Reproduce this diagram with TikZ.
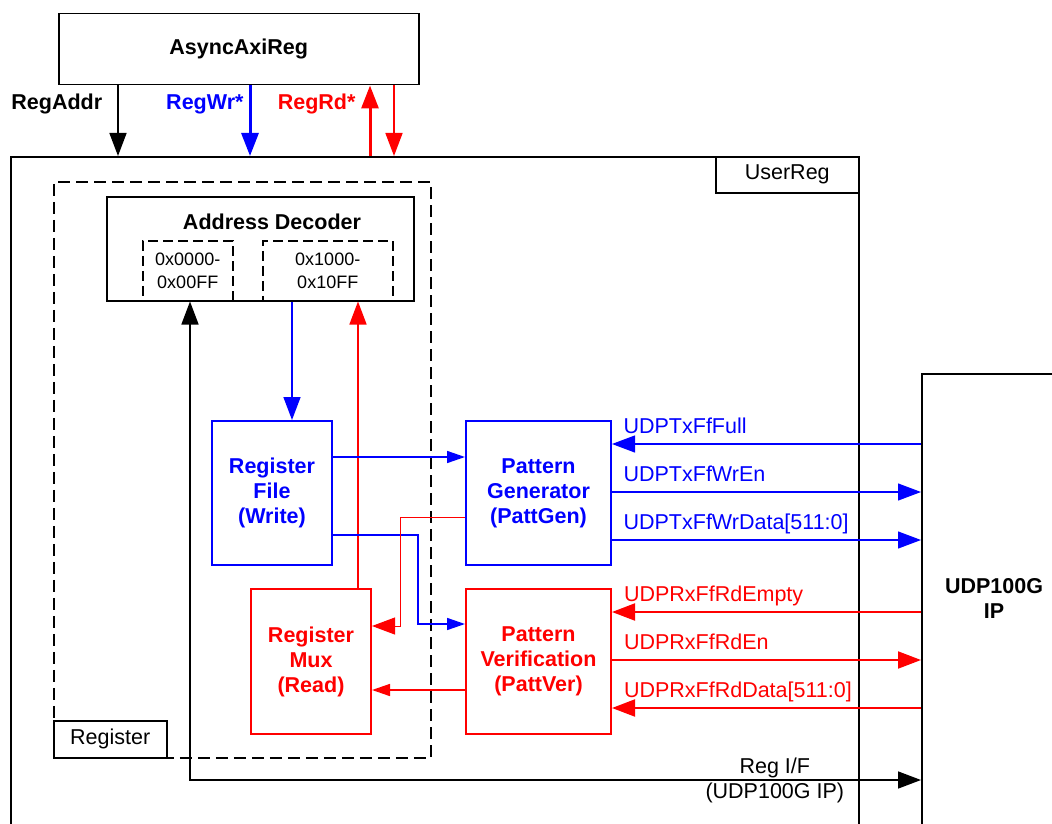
\documentclass[tikz,border=0pt]{standalone}
\usepackage{fontspec}
\setmainfont{Liberation Sans}
\usetikzlibrary{arrows.meta}
\definecolor{sigblue}{RGB}{0,0,255}
\definecolor{sigred}{RGB}{255,0,0}

\begin{document}
\begin{tikzpicture}[x=1pt, y=-1pt,
    font=\fontsize{21.5}{25}\selectfont,
    boldtext/.style={font=\fontsize{21.5}{25}\selectfont\bfseries},
    box/.style={draw, line width=1.5pt, anchor=north west, inner sep=0pt, align=center},
    subbox/.style={box, dash pattern=on 10pt off 5pt, font=\fontsize{18}{23}\selectfont},
    blueblock/.style={box, draw=sigblue, text=sigblue, line width=2pt, boldtext},
    redblock/.style={box, draw=sigred, text=sigred, line width=2pt, boldtext},
    bigtip/.style={arrows={-Triangle[length=23pt, width=17pt]}},
    smalltip/.style={arrows={-Triangle[length=18pt, width=12pt]}},
    dbltip/.style={arrows={Triangle[length=23pt, width=17pt]-Triangle[length=23pt, width=17pt]}},
    toplabel/.style={anchor=base east, inner sep=0pt, boldtext},
    siglabel/.style={anchor=base west, xshift=11pt, yshift=11pt, inner sep=0pt}]

    \useasboundingbox (0,0) rectangle (1052,824);

    % AsyncAxiReg on top
    \node[box, minimum width=360pt, minimum height=71pt, boldtext] (axi) at (58,13) {AsyncAxiReg};

    % UserReg, runs off the page
    \node[box, line width=2pt, minimum width=848pt, minimum height=720pt] (user) at (10,156) {};
    \node[box, minimum width=143pt, minimum height=36pt] (usertag) at (715,156) {UserReg};

    % Register (dashed)
    \node[box, dash pattern=on 12pt off 6pt, minimum width=377pt, minimum height=576pt] (reg) at (53,181) {};
    \node[box, minimum width=113pt, minimum height=37pt] (regtag) at (53,720) {Register};

    % Address Decoder
    \node[box, minimum width=307pt, minimum height=104pt] (dec) at (106,196) {};
    \node[boldtext] (dectitle) at (272,222) {Address Decoder};
    \node[subbox, minimum width=90pt, minimum height=60pt] (lo) at (142,240) {0x0000-\\0x00FF};
    \node[subbox, minimum width=130pt, minimum height=60pt] (hi) at (262,240) {0x1000-\\0x10FF};

    % Register File / Mux and pattern blocks
    \node[blueblock, minimum width=120pt, minimum height=144pt] (rf) at (211,420) {Register\\File\\(Write)};
    \node[redblock, minimum width=120pt, minimum height=145pt] (mux) at (250,588) {Register\\Mux\\(Read)};
    \node[blueblock, minimum width=145pt, minimum height=144pt] (pg) at (465,420) {Pattern\\Generator\\(PattGen)};
    \node[redblock, minimum width=145pt, minimum height=145pt] (pv) at (465,588) {Pattern\\Verification\\(PattVer)};

    % UDP100G IP, runs off the page
    \node[box, minimum width=200pt, minimum height=500pt] (udp) at (921,373) {};
    \node[boldtext, align=center] (udptxt) at (994,598) {UDP100G\\IP};

    % AsyncAxiReg <-> UserReg
    \draw[line width=1.5pt, bigtip] (axi.south -| 118,0) -- (user.north -| 118,0)
        node[toplabel, pos=0.34, xshift=-15pt] {RegAddr};
    \draw[sigblue, line width=3pt, bigtip] (axi.south -| 250,0) -- (user.north -| 250,0)
        node[toplabel, pos=0.34, xshift=-5pt] {RegWr*};
    \draw[sigred, line width=3pt, bigtip] (user.north -| 370,0) -- (axi.south -| 370,0)
        node[toplabel, pos=0.66, xshift=-13pt] {RegRd*};
    \draw[sigred, line width=1.5pt, bigtip] (axi.south -| 394,0) -- (user.north -| 394,0);

    % decoder connections
    \draw[line width=1.5pt, dbltip] (dec.south -| 190,0) |- (udp.west |- 0,780)
        node[pos=0.9, align=center] {Reg I/F\\(UDP100G IP)};
    \draw[sigblue, line width=1.5pt, bigtip] (dec.south -| 292,0) -- (rf.north -| 292,0);
    \draw[sigred, line width=1.5pt, bigtip] (mux.north -| 358,0) -- (dec.south -| 358,0);

    % between the blocks
    \draw[sigblue, line width=1.5pt, smalltip] (rf.east |- 0,457) -- (pg.west |- 0,457);
    \draw[sigblue, line width=1.5pt, smalltip] (rf.east |- 0,535) -| (418,624) -- (pv.west |- 0,624);
    \draw[sigred, line width=1pt, bigtip] (pg.west |- 0,517) -| (400,626) -- (mux.east |- 0,626);
    \draw[sigred, line width=1.5pt, smalltip] (pv.west |- 0,690) -- (mux.east |- 0,690);

    % UDP100G IP signals
    \draw[sigblue, line width=1.2pt, bigtip] (udp.west |- 0,444) -- (pg.east |- 0,444)
        node[siglabel, pos=1] {UDPTxFfFull};
    \draw[sigblue, line width=1.2pt, bigtip] (pg.east |- 0,492) -- (udp.west |- 0,492)
        node[siglabel, pos=0] {UDPTxFfWrEn};
    \draw[sigblue, line width=1.2pt, bigtip] (pg.east |- 0,540) -- (udp.west |- 0,540)
        node[siglabel, pos=0] {UDPTxFfWrData[511:0]};
    \draw[sigred, line width=2pt, bigtip] (udp.west |- 0,612) -- (pv.east |- 0,612)
        node[siglabel, pos=1] {UDPRxFfRdEmpty};
    \draw[sigred, line width=2pt, bigtip] (pv.east |- 0,660) -- (udp.west |- 0,660)
        node[siglabel, pos=0] {UDPRxFfRdEn};
    \draw[sigred, line width=2pt, bigtip] (udp.west |- 0,708) -- (pv.east |- 0,708)
        node[siglabel, pos=1] {UDPRxFfRdData[511:0]};
\end{tikzpicture}
\end{document}
